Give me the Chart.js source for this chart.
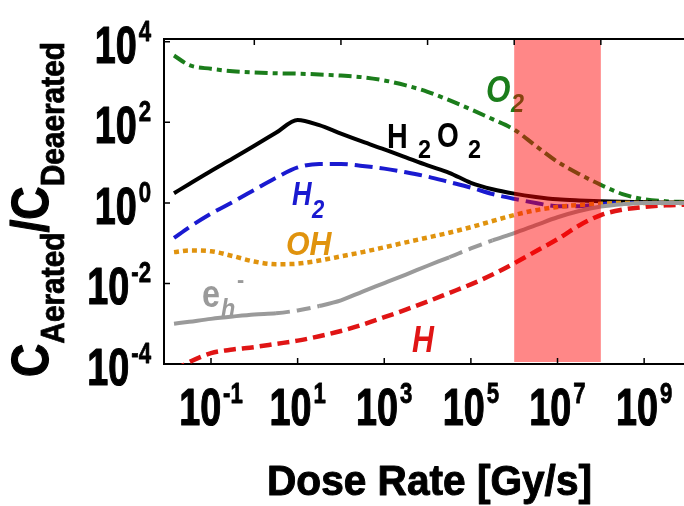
<!DOCTYPE html>
<html>
<head>
<meta charset="utf-8">
<script src="https://cdn.jsdelivr.net/npm/chart.js@4.4.1/dist/chart.umd.min.js"></script>
<style>
  html, body { margin: 0; padding: 0; background: #fff; }
  canvas { display: block; }
</style>
</head>
<body>
<canvas id="chart" width="684" height="506"></canvas>
<script>
// dose rate [Gy/s], half decade steps
const doseRate = [0.014, 0.0316, 0.1, 0.316, 1, 3.16, 10, 31.6, 100, 316, 1e3, 3.16e3, 1e4, 3.16e4,
    1e5, 3.16e5, 1e6, 3.16e6, 1e7, 3.16e7, 1e8, 3.16e8, 1e9, 3.16e9, 1e10];

// C_aerated / C_deaerated
const o2 = [4570, 2630, 2140, 1860, 1740, 1660, 1620, 1550, 1450, 1320, 1100, 830, 575, 355,
    209, 120, 66, 26, 10.5, 5.2, 2.8, 1.66, 1.23, 1.1, 1.05];
const h2o2 = [1.74, 2.95, 6.2, 12.6, 26.3, 55, 115, 85, 52.5, 33.1, 21.4, 13.5, 8.5, 5.6,
    3.16, 2.19, 1.7, 1.41, 1.23, 1.15, 1.1, 1.07, 1.05, 1.02, 1.02];
const h2 = [0.135, 0.25, 0.54, 1.05, 2.1, 4.2, 7.6, 9.3, 9.3, 8.3, 7.1, 5.75, 4.5, 3.3,
    2.4, 1.66, 1.26, 1.0, 0.83, 0.83, 0.93, 1.0, 1.0, 1.0, 1.0];
const oh = [0.06, 0.066, 0.063, 0.048, 0.035, 0.03, 0.031, 0.037, 0.047, 0.06, 0.079, 0.105, 0.138, 0.182,
    0.25, 0.355, 0.5, 0.66, 0.79, 0.89, 0.95, 1.0, 1.0, 1.0, 1.0];
const eh = [0.001, 0.00112, 0.00132, 0.00151, 0.0017, 0.00182, 0.00214, 0.00275, 0.0038, 0.0063, 0.0102, 0.0166, 0.0275, 0.0447,
    0.074, 0.117, 0.178, 0.28, 0.44, 0.63, 0.81, 0.93, 1.0, 1.0, 1.0];
const hAtom = [0.00007, 0.000112, 0.000186, 0.000229, 0.000263, 0.000316, 0.00038, 0.00049, 0.00066, 0.00095, 0.00145, 0.00224, 0.00355, 0.0058,
    0.0095, 0.0166, 0.0316, 0.063, 0.126, 0.275, 0.5, 0.68, 0.79, 0.87, 0.91];

const xBottomExps = [-1, 1, 3, 5, 7, 9];
const xTopExps = [0, 2, 4, 6, 8];
const yExps = [4, 2, 0, -2, -4];
const shadeRange = [1e6, 1e8];

const xTitle = 'Dose Rate [Gy/s]';

const FONT = '"Liberation Sans", Arial, Helvetica, sans-serif';

function setFont(ctx, size, italic) {
    ctx.font = (italic ? 'italic ' : '') + 'bold ' + size + 'px ' + FONT;
}

function textW(ctx, s, size, sx, italic) {
    setFont(ctx, size, italic);
    return ctx.measureText(s).width * sx;
}

function txt(ctx, s, x, y, size, color, sx, italic, heavy) {
    ctx.save();
    setFont(ctx, size, italic);
    ctx.fillStyle = color;
    ctx.strokeStyle = color;
    ctx.textAlign = 'left';
    ctx.textBaseline = 'alphabetic';
    ctx.translate(x, y);
    ctx.scale(sx, 1);
    ctx.fillText(s, 0, 0);
    if (heavy) {
        ctx.lineWidth = heavy;
        ctx.lineJoin = 'round';
        ctx.strokeText(s, 0, 0);
    }
    ctx.restore();
}

function expStr(e) {
    return e < 0 ? '-' + Math.abs(e) : String(e);
}

// "10" with a raised exponent; align: 'center' or 'right'
function powLabel(ctx, e, x, base, align) {
    const sx = 0.74;
    const w1 = textW(ctx, '10', 51, sx);
    const w2 = textW(ctx, expStr(e), 30, sx);
    const w = w1 + 2 + w2;
    const left = align === 'center' ? x - w / 2 : x - w;
    txt(ctx, '10', left, base, 51, '#000', sx, false, 1.2);
    txt(ctx, expStr(e), left + w1 + 2, base - 22, 30, '#000', sx, false, 0.8);
}

const decor = {
    id: 'decor',
    afterDatasetsDraw(chart) {
        const ctx = chart.ctx;
        const xs = chart.scales.x;
        const a = chart.chartArea;

        // curve labels
        txt(ctx, 'O', 486, 102, 37, '#1b7d1b', 0.85, true);
        txt(ctx, '2', 511, 112, 26, '#1b7d1b', 0.9, true);

        txt(ctx, 'H', 387, 148, 35, '#000', 0.82);
        txt(ctx, '2', 418, 158, 26, '#000', 0.9);
        txt(ctx, 'O', 437, 147, 35, '#000', 0.8);
        txt(ctx, '2', 468, 158, 26, '#000', 0.9);

        txt(ctx, 'H', 292, 205, 33, '#1a1ad0', 0.82, true);
        txt(ctx, '2', 312, 218, 26, '#1a1ad0', 0.85, true);

        txt(ctx, 'OH', 286, 255, 33, '#e0930e', 0.92, true);

        txt(ctx, 'e', 202, 307, 38, '#9a9a9a', 0.85);
        txt(ctx, 'h', 221, 317, 26, '#9a9a9a', 0.9, true);
        txt(ctx, '-', 237, 288, 24, '#9a9a9a', 0.9);

        txt(ctx, 'H', 412, 352, 37, '#e01515', 0.82, true);

        // shaded dose-rate window
        const x0 = xs.getPixelForValue(shadeRange[0]);
        const x1 = xs.getPixelForValue(shadeRange[1]);
        ctx.save();
        ctx.fillStyle = 'rgba(255,0,0,0.47)';
        ctx.fillRect(x0, a.top, x1 - x0, a.bottom - a.top - 2);
        ctx.restore();
    },
    afterDraw(chart) {
        const ctx = chart.ctx;
        const xs = chart.scales.x;
        const ys = chart.scales.y;
        const a = chart.chartArea;

        ctx.save();
        ctx.strokeStyle = '#000';
        ctx.lineWidth = 2;
        ctx.beginPath();
        ctx.moveTo(a.left - 1, a.top);
        ctx.lineTo(a.right + 2, a.top);
        ctx.stroke();

        ctx.lineWidth = 1.5;
        ctx.beginPath();
        xBottomExps.forEach(e => {
            const px = xs.getPixelForValue(Math.pow(10, e));
            ctx.moveTo(px, a.bottom);
            ctx.lineTo(px, a.bottom - 6);
        });
        xTopExps.forEach(e => {
            const px = xs.getPixelForValue(Math.pow(10, e));
            ctx.moveTo(px, a.top);
            ctx.lineTo(px, a.top + 6);
        });
        yExps.forEach(e => {
            const py = ys.getPixelForValue(Math.pow(10, e));
            ctx.moveTo(a.left, py);
            ctx.lineTo(a.left + 6, py);
        });
        ctx.stroke();
        ctx.restore();

        xBottomExps.forEach(e => {
            powLabel(ctx, e, xs.getPixelForValue(Math.pow(10, e)), 425, 'center');
        });
        yExps.forEach(e => {
            powLabel(ctx, e, 151, ys.getPixelForValue(Math.pow(10, e)) + 21, 'right');
        });

        // x title, fitted to its width in the figure
        const tw = textW(ctx, xTitle, 43, 1);
        txt(ctx, xTitle, 267, 495, 43, '#000', 325 / tw, false, 1);

        // y title, rotated
        const parts = [['C', 51, 0], ['Aerated', 33, 16], ['/', 51, 0], ['C', 51, 0], ['Deaerated', 33, 16]];
        let total = 0;
        parts.forEach(p => { total += textW(ctx, p[0], p[1], 1); });
        const sx = 335 / total;
        ctx.save();
        ctx.translate(48, 377);
        ctx.rotate(-Math.PI / 2);
        let pos = 0;
        parts.forEach(p => {
            txt(ctx, p[0], pos, p[2], p[1], '#000', sx, false, p[1] > 40 ? 1.2 : 0.8);
            pos += textW(ctx, p[0], p[1], sx);
        });
        ctx.restore();
    }
};

function pts(arr) {
    return doseRate.map((d, i) => ({ x: d, y: arr[i] }));
}

function inRange(v, lo, hi) {
    const l = Math.log10(v);
    return l >= lo - 0.01 && l < hi - 0.01;
}

const common = {
    pointRadius: 0,
    borderWidth: 4,
    fill: false,
    cubicInterpolationMode: 'monotone',
    borderCapStyle: 'butt'
};

new Chart(document.getElementById('chart').getContext('2d'), {
    type: 'line',
    data: {
        datasets: [
            Object.assign({}, common, {
                label: 'e_h-', data: pts(eh), borderColor: '#9a9a9a',
                segment: {
                    borderDash: c => (inRange(c.p0.parsed.x, 0.5, 1.5) || inRange(c.p0.parsed.x, 4.5, 5.5)) ? [14, 7] : undefined
                }
            }),
            Object.assign({}, common, { label: 'H', data: pts(hAtom), borderColor: '#e01515', borderDash: [12, 6], borderWidth: 4.5 }),
            Object.assign({}, common, { label: 'OH', data: pts(oh), borderColor: '#e0930e', borderDash: [5, 4], borderWidth: 4.5 }),
            Object.assign({}, common, { label: 'H2', data: pts(h2), borderColor: '#1a1ad0', borderDash: [18, 7] }),
            Object.assign({}, common, { label: 'H2O2', data: pts(h2o2), borderColor: '#000' }),
            Object.assign({}, common, { label: 'O2', data: pts(o2), borderColor: '#1b7d1b', borderDash: [13, 5, 5, 5] })
        ]
    },
    options: {
        responsive: false,
        animation: false,
        devicePixelRatio: 1,
        layout: { padding: { top: 39, right: 0, left: 0, bottom: 0 } },
        plugins: {
            legend: { display: false },
            tooltip: { enabled: false }
        },
        scales: {
            x: {
                type: 'logarithmic',
                min: Math.pow(10, -2.085),
                max: Math.pow(10, 9.92),
                grid: { display: false, drawTicks: false },
                border: { display: true, color: '#000', width: 2 },
                ticks: { display: false },
                afterFit: s => { s.height = 142; }
            },
            y: {
                type: 'logarithmic',
                min: 1e-4,
                max: Math.pow(10, 4.07),
                grid: { display: false, drawTicks: false },
                border: { display: true, color: '#000', width: 2 },
                ticks: { display: false },
                afterFit: s => { s.width = 164; }
            }
        }
    },
    plugins: [decor]
});
</script>
</body>
</html>
